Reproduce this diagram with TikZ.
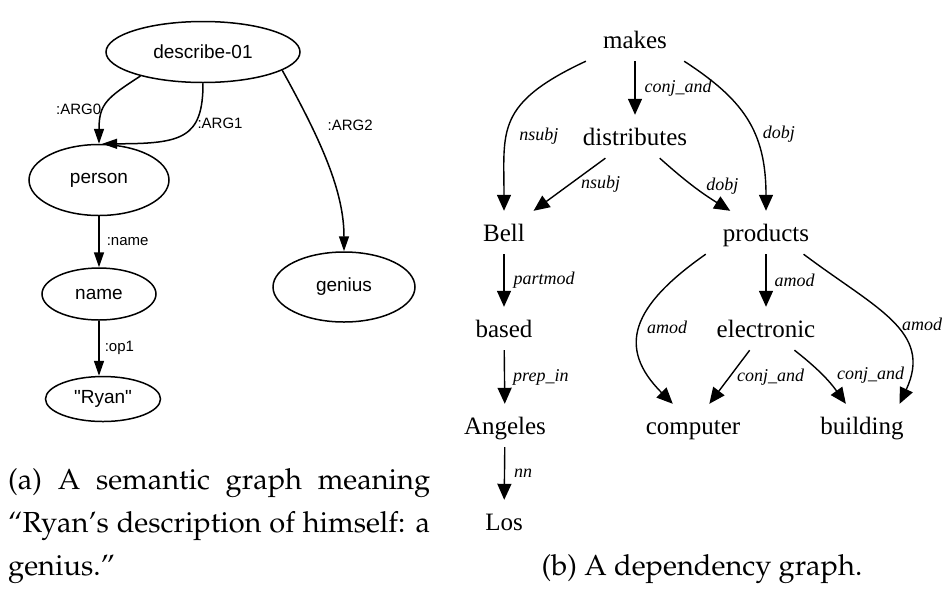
\documentclass[tikz,border=0pt]{standalone}
\usepackage[T1]{fontenc}
\usepackage{fontspec}
\setmainfont{Liberation Serif}
\newfontfamily\amrfont{Liberation Sans}
\newfontfamily\depfont{Liberation Serif}
\usepackage{tikz}
\usetikzlibrary{shapes.geometric, arrows.meta, positioning}
\newcommand{\capfont}{\fontencoding{T1}\fontfamily{ppl}\fontsize{29}{43}\selectfont}

\begin{document}
\begin{tikzpicture}[x=1pt, y=1pt]

        % Setup the styles for the two graphs
        \tikzset{amr node/.style={ellipse, draw,
                                  line width=1.5pt,
                                  inner sep=0pt,
                                  font=\amrfont\fontsize{19}{22}\selectfont},
                 amr edge/.style={line width=1.5pt,
                                  -{Triangle[length=15pt, width=10pt]}},
                 amr label/.style={inner sep=2pt,
                                   font=\amrfont\fontsize{15}{18}\selectfont},
                 dep node/.style={anchor=base,
                                  text height=22pt, text depth=5pt,
                                  inner xsep=17pt, inner ysep=8pt,
                                  font=\depfont\fontsize{25}{30}\selectfont},
                 dep edge/.style={line width=1.4pt,
                                  -{Triangle[length=16pt, width=14pt]}},
                 dep label/.style={inner sep=2pt,
                                   font=\depfont\itshape\fontsize{18}{22}\selectfont}}

        \useasboundingbox (0,0) rectangle (942,-606);

        % Draw the semantic graph
        \node[amr node, minimum width=194pt, minimum height=61pt] at (203,-52)  (describe) {describe-01};
        \node[amr node, minimum width=140pt, minimum height=71pt] at (99,-180)  (person)   {person};
        \node[amr node, minimum width=114pt, minimum height=52pt] at (99,-294)  (name)     {name};
        \node[amr node, minimum width=115pt, minimum height=45pt] at (103,-399) (ryan)     {"Ryan"};
        \node[amr node, minimum width=142pt, minimum height=70pt] at (344,-287) (genius)   {genius};

        % Connect the concepts
        \draw[amr edge] (describe.201) to[out=213, in=90, out distance=40pt, in distance=40pt]
            node[amr label, pos=.6, anchor=east] {:ARG0} (person.north);
        \draw[amr edge] (describe.south) to[out=-90, in=0, out distance=55pt, in distance=80pt]
            node[amr label, pos=.33, anchor=west] {:ARG1} (person.85);
        \draw[amr edge] (describe.-13) to[out=-61, in=90, out distance=80pt, in distance=60pt]
            node[amr label, pos=.28, anchor=west, xshift=14pt] {:ARG2} (genius.north);
        \draw[amr edge] (person) -- node[amr label, anchor=west, xshift=5pt] {:name} (name);
        \draw[amr edge] (name) -- node[amr label, anchor=west, xshift=3pt] {:op1} (name |- ryan.north);

        % Draw the dependency graph
        \node[dep node] at (635,-48)  (makes)       {makes};
        \node[dep node] at (635,-145) (distributes) {distributes};
        \node[dep node] at (504,-241) (Bell)        {Bell};
        \node[dep node] at (766,-241) (products)    {products};
        \node[dep node] at (504,-337) (based)       {based};
        \node[dep node] at (766,-337) (electronic)  {electronic};
        \node[dep node] at (505,-434) (Angeles)     {Angeles};
        \node[dep node] at (693,-434) (computer)    {computer};
        \node[dep node] at (862,-434) (building)    {building};
        \node[dep node] at (504,-530) (Los)         {Los};

        % Connect the words
        \draw[dep edge] (makes) -- node[dep label, anchor=west, xshift=7pt] {conj\_and} (distributes);
        \draw[dep edge] (makes.south west) to[out=205, in=90, out distance=100pt, in distance=80pt]
            node[dep label, pos=.6, anchor=west, xshift=10pt] {nsubj} (Bell.north);
        \draw[dep edge] (makes.south east) to[out=-33, in=90, out distance=70pt, in distance=80pt]
            node[dep label, pos=.6, anchor=west, xshift=6pt] {dobj} (products.north);
        \draw[dep edge] (distributes) -- node[dep label, anchor=west, xshift=9pt] {nsubj} (Bell);
        \draw[dep edge] (distributes) to[bend right=5] node[dep label, anchor=west, xshift=10pt] {dobj} (products);
        \draw[dep edge] (Bell) -- node[dep label, anchor=west, xshift=7pt] {partmod} (based);
        \draw[dep edge] (based) -- node[dep label, anchor=west, xshift=6pt] {prep\_in} (Angeles);
        \draw[dep edge] (Angeles) -- node[dep label, anchor=west, xshift=7pt] {nn} (Los);
        \draw[dep edge] (products) -- node[dep label, anchor=west, xshift=6pt] {amod} (electronic);
        \draw[dep edge] (products.south west) to[out=215, in=135, out distance=90pt, in distance=80pt]
            node[dep label, pos=.5, anchor=west, xshift=4pt] {amod} (computer.133);
        \draw[dep edge] (products.-30) to[out=-37, in=65, out distance=90pt, in distance=80pt]
            node[dep label, pos=.52, anchor=west, xshift=6pt] {amod} (building.30);
        \draw[dep edge] (electronic) -- node[dep label, anchor=west, xshift=5pt] {conj\_and} (computer);
        \draw[dep edge] (electronic) to[bend left=8] node[dep label, anchor=west, xshift=12pt] {conj\_and} (building);

        % Captions
        \node[anchor=north west, inner sep=0pt, text width=422pt, align=justify, font=\capfont]
            at (8,-468) (capA) {(a) A semantic graph meaning\linebreak ``Ryan's description of himself: a\linebreak genius.''};
        \node[anchor=base, inner sep=0pt, font=\capfont] at (702,-575) (capB) {(b) A dependency graph.};
\end{tikzpicture}
\end{document}
